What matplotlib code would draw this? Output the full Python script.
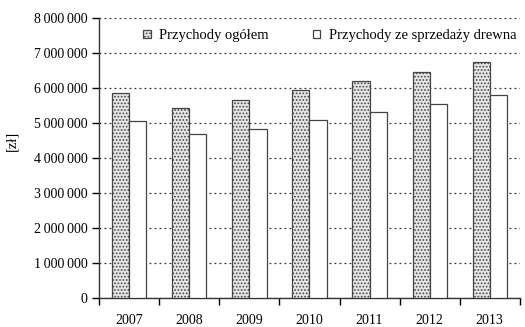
import numpy as np
import matplotlib
matplotlib.use('Agg')
import matplotlib.pyplot as plt
from matplotlib.ticker import FuncFormatter, MultipleLocator

plt.rcParams['font.family'] = ['Liberation Serif', 'DejaVu Serif']
plt.rcParams['hatch.color'] = '#7a7a7a'
plt.rcParams['hatch.linewidth'] = 0.8

years = ['2007', '2008', '2009', '2010', '2011', '2012', '2013']
przychody_ogolem = [5860000, 5430000, 5660000, 5940000, 6200000, 6460000, 6740000]
przychody_drewno = [5060000, 4690000, 4830000, 5090000, 5310000, 5540000, 5800000]

fig = plt.figure(figsize=(5.25, 3.27), dpi=100)
ax = fig.add_axes([0.189, 0.089, 0.801, 0.856])

x = np.arange(len(years))
w = 0.285
ax.bar(x - w/2, przychody_ogolem, w, facecolor='#e6e6e6', edgecolor='#444444',
       hatch='.....', linewidth=0.9, label='Przychody ogółem', zorder=3)
ax.bar(x + w/2, przychody_drewno, w, facecolor='white', edgecolor='#444444',
       linewidth=0.9, label='Przychody ze sprzedaży drewna', zorder=3)

ax.set_xlim(-0.5, len(years) - 0.5)
ax.set_ylim(0, 8000000)
ax.yaxis.set_major_locator(MultipleLocator(1000000))
ax.yaxis.set_major_formatter(FuncFormatter(lambda v, p: f'{int(v):,}'.replace(',', '\u2009')))
ax.set_xticks(x)
ax.set_xticklabels(years)
ax.set_xticks(np.arange(-0.5, len(years)), minor=True)
ax.tick_params(axis='x', which='major', length=0, pad=11.5, labelsize=10)
ax.tick_params(axis='x', which='minor', length=5, direction='out', width=1)
ax.tick_params(axis='y', length=5, direction='out', width=1, labelsize=10)

ax.yaxis.grid(True, linestyle=(0, (1.5, 2.5)), color='#333333', linewidth=0.9, zorder=0)
ax.spines['top'].set_visible(False)
ax.spines['right'].set_visible(False)
for s in ('left', 'bottom'):
    ax.spines[s].set_linewidth(1)
    ax.spines[s].set_color('#333333')

ax.set_ylabel('[zł]', fontsize=10.5)
ax.yaxis.set_label_coords(-0.192, 0.56)

leg = ax.legend(ncol=2, loc='upper left', bbox_to_anchor=(0.105, 0.96), frameon=True,
                fontsize=10.5, handlelength=0.5, handleheight=0.5, columnspacing=3.0,
                handletextpad=0.6, borderpad=0.0, borderaxespad=0.0)
leg.get_frame().set_facecolor('white')
leg.get_frame().set_edgecolor('white')
leg.get_frame().set_alpha(1)

fig.savefig('out.png', dpi=100)
